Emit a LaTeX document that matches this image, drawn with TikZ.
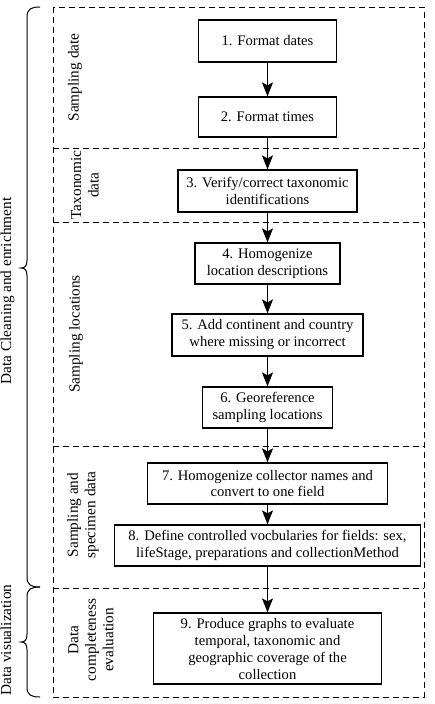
\documentclass[tikz,border=0pt]{standalone}
\usepackage{fontspec}
\setmainfont{Liberation Serif}
\usetikzlibrary{arrows.meta}
\begin{document}
\begin{tikzpicture}[x=1pt,y=-1pt,
  stepbox/.style={draw, line width=1.2pt, align=center, inner sep=0pt, font=\fontsize{14.6}{17}\selectfont},
  seclabel/.style={rotate=90, align=center, inner sep=0pt, font=\fontsize{15.3}{17.5}\selectfont},
  flow/.style={line width=1.3pt, -{Stealth[length=14pt,width=11pt,inset=3pt]}},
  secline/.style={line width=0.9pt, dash pattern=on 6pt off 4pt},
  bracepath/.style={line width=1pt}
]
\useasboundingbox (0,0) rectangle (435,704);

% section frames
\draw[secline] (53,7) rectangle (424,697);
\draw[secline] (53,148) -- (424,148);
\draw[secline] (53,222) -- (424,222);
\draw[secline] (53,446) -- (424,446);
\draw[secline] (53,588) -- (424,588);

% section labels
\node[seclabel] (sl1) at (75,77.5) {Sampling date};
\node[seclabel] (sl2) at (85,185) {Taxonomic\\data};
\node[seclabel] (sl3) at (76,334) {Sampling locations};
\node[seclabel] (sl4) at (83,515) {Sampling and\\specimen data};
\node[seclabel] (sl5) at (91,640) {Data\\completeness\\evaluation};

% steps
\node[stepbox, minimum width=138pt, minimum height=42pt] (b1) at (267.5,41) {1. Format dates};
\node[stepbox, minimum width=138pt, minimum height=40pt] (b2) at (267.5,117) {2. Format times};
\node[stepbox, minimum width=179pt, minimum height=42pt] (b3) at (267.5,191) {3. Verify/correct taxonomic\\identifications};
\node[stepbox, minimum width=145pt, minimum height=41pt] (b4) at (267.5,263.5) {4. Homogenize\\location descriptions};
\node[stepbox, minimum width=191pt, minimum height=42pt] (b5) at (267.5,335) {5. Add continent and country\\where missing or incorrect};
\node[stepbox, minimum width=130pt, minimum height=41pt] (b6) at (267.5,407.5) {6. Georeference\\sampling locations};
\node[stepbox, minimum width=240pt, minimum height=41pt] (b7) at (267.5,483.5) {7. Homogenize collector names and\\convert to one field};
\node[stepbox, minimum width=306pt, minimum height=41pt] (b8) at (267.5,545.5) {8. Define controlled vocbularies for fields: sex,\\lifeStage, preparations and collectionMethod};
\node[stepbox, minimum width=228pt, minimum height=71pt] (b9) at (267.5,648.5) {9. Produce graphs to evaluate\\temporal, taxonomic and\\geographic coverage of the\\collection};

\draw[flow] (b1.south) -- (b2.north);
\draw[flow] (b2.south) -- (b3.north);
\draw[flow] (b3.south) -- (b4.north);
\draw[flow] (b4.south) -- (b5.north);
\draw[flow] (b5.south) -- (b6.north);
\draw[flow] (b6.south) -- (b7.north);
\draw[flow] (b7.south) -- (b8.north);
\draw[flow] (b8.south) -- (b9.north);

% braces
\draw[bracepath] (40,7) .. controls (31,7) and (27,9) .. (27,17)
  -- (27,260) .. controls (27,266) and (25,268) .. (21,268)
  .. controls (25,268) and (27,270) .. (27,276)
  -- (27,577) .. controls (27,585) and (31,587) .. (40,587);
\draw[bracepath] (40,587) .. controls (31,587) and (27,589) .. (27,597)
  -- (27,634) .. controls (27,640) and (25,642) .. (21,642)
  .. controls (25,642) and (27,644) .. (27,650)
  -- (27,687) .. controls (27,695) and (31,697) .. (40,697);

% group labels (at the left edge)
\node[seclabel, anchor=base] (dce) at (11,291) {Data Cleaning and enrichment};
\node[seclabel, anchor=base] (dv) at (11,640) {Data visualization};
\end{tikzpicture}
\end{document}
